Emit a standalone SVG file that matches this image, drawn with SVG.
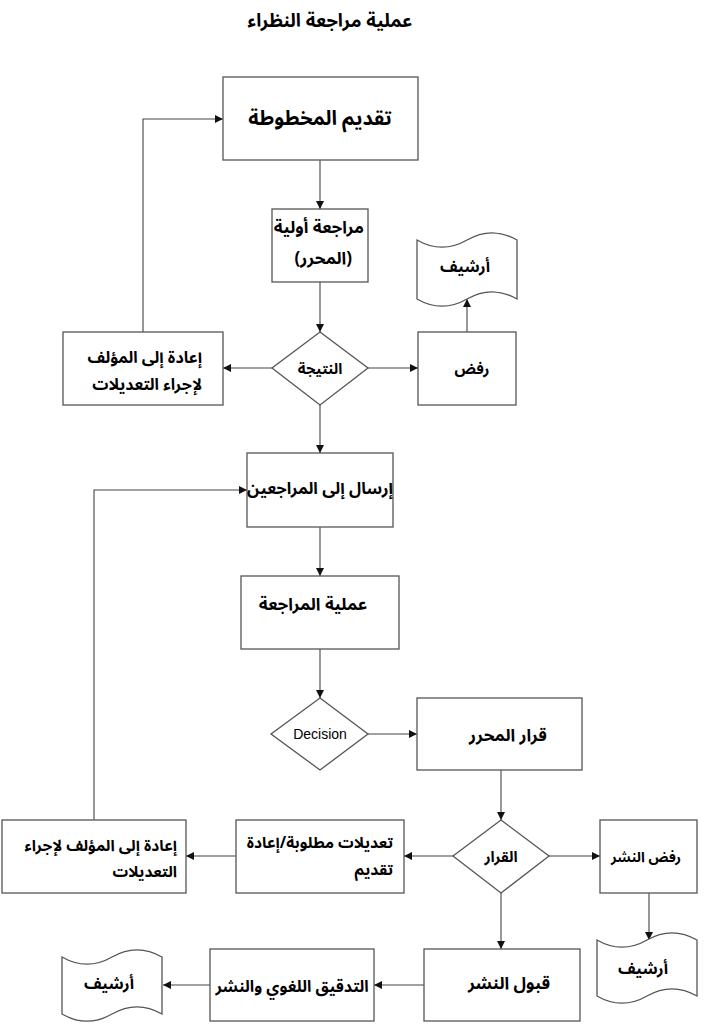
<svg xmlns="http://www.w3.org/2000/svg" width="704" height="1024" viewBox="0 0 704 1024">
<defs>
<marker id="ah" viewBox="0 0 10 10" refX="10" refY="5" markerWidth="8" markerHeight="8" markerUnits="userSpaceOnUse" orient="auto">
<path d="M0,0 L10,5 L0,10 Z" fill="#111"/>
</marker>
<style>
.n{fill:#fff;stroke:#555;stroke-width:1.3}
.ca{fill:none;stroke:#444;stroke-width:1.1;marker-end:url(#ah)}
.t{font-family:"Noto Sans Arabic","DejaVu Sans",sans-serif;fill:#000;font-weight:bold}
.e{font-family:"Liberation Sans",Arial,sans-serif;fill:#000}
</style>
</defs>
<rect width="704" height="1024" fill="#fff"/>
<text class="t" x="330" y="27" text-anchor="middle" direction="rtl" font-size="18.5">عملية مراجعة النظراء</text>

<g id="connectors">
<path class="ca" d="M320,160 L320,209"/>
<path class="ca" d="M320,282 L320,332"/>
<path class="ca" d="M272,368 L223,368"/>
<path class="ca" d="M368,368 L418,368"/>
<path class="ca" d="M467,332 L467,299"/>
<path class="ca" d="M143,332 L143,119 L223,119"/>
<path class="ca" d="M320,405 L320,453"/>
<path class="ca" d="M320,527 L320,576"/>
<path class="ca" d="M320,649 L320,698"/>
<path class="ca" d="M368,734 L417,734"/>
<path class="ca" d="M501,770 L501,820"/>
<path class="ca" d="M453,856 L404,856"/>
<path class="ca" d="M236,856 L186,856"/>
<path class="ca" d="M549,856 L600,856"/>
<path class="ca" d="M649,893 L649,940"/>
<path class="ca" d="M501,893 L501,949"/>
<path class="ca" d="M424,985 L374,985"/>
<path class="ca" d="M210,985 L163,985"/>
<path class="ca" d="M94,820 L94,490 L247,490"/>
</g>

<g id="submit">
<rect class="n" x="223" y="77" width="195" height="83"/>
<text class="t" x="320" y="125" text-anchor="middle" direction="rtl" font-size="20">تقديم المخطوطة</text>
</g>
<g id="initial-review">
<rect class="n" x="272" y="209" width="96" height="73"/>
<text class="t" text-anchor="start" direction="rtl" font-size="17"><tspan x="364" y="233">مراجعة أولية</tspan><tspan x="352" y="264">(المحرر)</tspan></text>
</g>
<g id="result">
<polygon class="n" points="320,332 368,368 320,405 272,368"/>
<text class="t" x="320" y="374" text-anchor="middle" direction="rtl" font-size="15">النتيجة</text>
</g>
<g id="return-author-1">
<rect class="n" x="63" y="332" width="160" height="73"/>
<text class="t" text-anchor="start" direction="rtl" font-size="16"><tspan x="202" y="363">إعادة إلى المؤلف</tspan><tspan x="202" y="390">لإجراء التعديلات</tspan></text>
</g>
<g id="reject">
<rect class="n" x="418" y="332" width="98" height="73"/>
<text class="t" x="472" y="374" text-anchor="middle" direction="rtl" font-size="15">رفض</text>
</g>
<g id="archive-1">
<path class="n" d="M417,240 Q442,254.4 467,240 Q492,225.6 517,240 L517,299 Q492,284.6 467,299 Q442,313.4 417,299 Z"/>
<text class="t" x="465" y="272" text-anchor="middle" direction="rtl" font-size="16">أرشيف</text>
</g>
<g id="send-reviewers">
<rect class="n" x="247" y="453" width="146" height="74"/>
<text class="t" x="320" y="494" text-anchor="middle" direction="rtl" font-size="16.5">إرسال إلى المراجعين</text>
</g>
<g id="review-process">
<rect class="n" x="241" y="576" width="158" height="73"/>
<text class="t" x="313" y="610" text-anchor="middle" direction="rtl" font-size="17">عملية المراجعة</text>
</g>
<g id="decision">
<polygon class="n" points="320,698 368,734 320,770 271,734"/>
<text class="e" x="320" y="739" text-anchor="middle" font-size="14">Decision</text>
</g>
<g id="editor-decision">
<rect class="n" x="417" y="698" width="165" height="72"/>
<text class="t" x="508" y="741" text-anchor="middle" direction="rtl" font-size="17">قرار المحرر</text>
</g>
<g id="verdict">
<polygon class="n" points="501,820 549,856 501,893 453,856"/>
<text class="t" x="501" y="862" text-anchor="middle" direction="rtl" font-size="15">القرار</text>
</g>
<g id="revisions">
<rect class="n" x="236" y="820" width="168" height="73"/>
<text class="t" text-anchor="start" direction="rtl" font-size="15.5"><tspan x="393" y="848">تعديلات مطلوبة/إعادة</tspan><tspan x="393" y="875">تقديم</tspan></text>
</g>
<g id="return-author-2">
<rect class="n" x="2" y="820" width="184" height="73"/>
<text class="t" text-anchor="start" direction="rtl" font-size="15.5"><tspan x="177" y="851">إعادة إلى المؤلف لإجراء</tspan><tspan x="177" y="877">التعديلات</tspan></text>
</g>
<g id="reject-publish">
<rect class="n" x="600" y="820" width="97" height="73"/>
<text class="t" x="646" y="862" text-anchor="middle" direction="rtl" font-size="14">رفض النشر</text>
</g>
<g id="archive-2">
<path class="n" d="M597,940 Q622,954.4 647,940 Q672,925.6 697,940 L697,996 Q672,981.6 647,996 Q622,1010.4 597,996 Z"/>
<text class="t" x="643" y="974" text-anchor="middle" direction="rtl" font-size="16">أرشيف</text>
</g>
<g id="accept">
<rect class="n" x="424" y="949" width="156" height="72"/>
<text class="t" x="509" y="989" text-anchor="middle" direction="rtl" font-size="17">قبول النشر</text>
</g>
<g id="proofread">
<rect class="n" x="210" y="949" width="164" height="72"/>
<text class="t" x="292" y="992" text-anchor="middle" direction="rtl" font-size="16">التدقيق اللغوي والنشر</text>
</g>
<g id="archive-3">
<path class="n" d="M62,957 Q87,971.4 112,957 Q137,942.6 162,957 L162,1014 Q137,999.6 112,1014 Q87,1028.4 62,1014 Z"/>
<text class="t" x="109" y="989" text-anchor="middle" direction="rtl" font-size="16">أرشيف</text>
</g>
</svg>
